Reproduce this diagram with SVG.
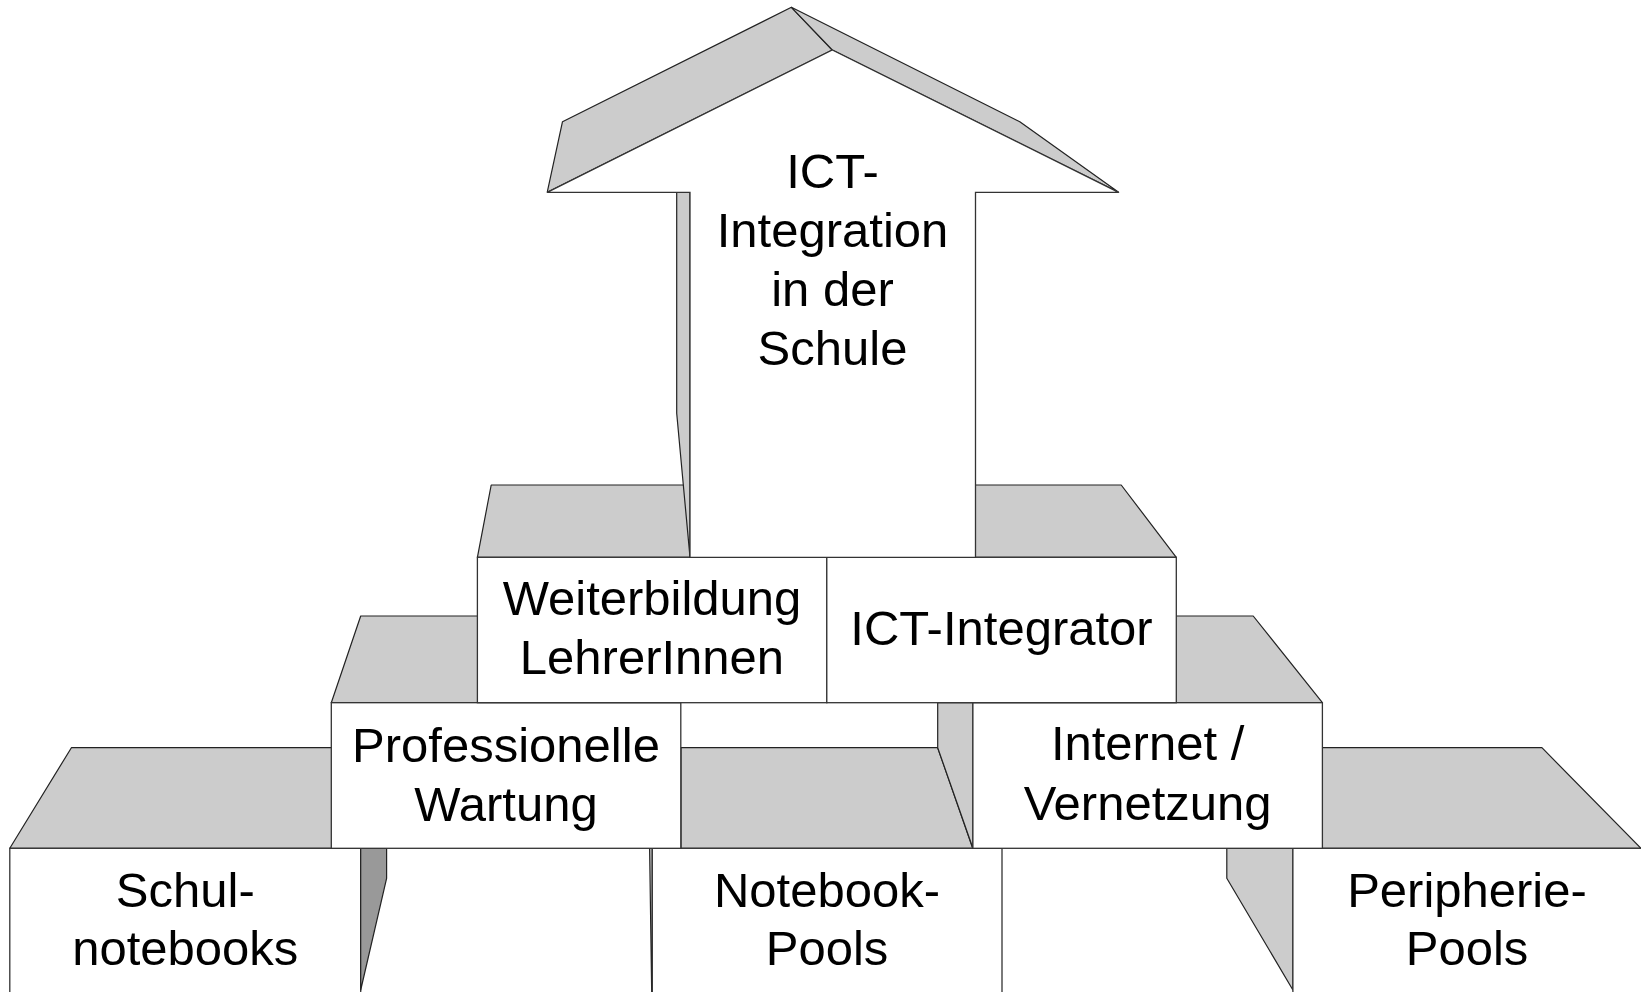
<svg xmlns="http://www.w3.org/2000/svg" width="1641" height="992" viewBox="0 0 1641 992">
<style>
.g{fill:#cccccc;stroke:#222;stroke-width:1.2;stroke-linejoin:round}
.d{fill:#999999;stroke:#222;stroke-width:1.2;stroke-linejoin:round}
.f{fill:#ffffff;stroke:#333;stroke-width:1.3}
.t{font-family:"Liberation Sans",Arial,sans-serif;font-size:49px;fill:#000;text-anchor:middle}
</style>
<rect width="1641" height="992" fill="#fff"/>
<g id="row-bottom-tops">
<polygon class="g" points="71.4,747.7 345,747.7 345,848.3 9.8,848.3"/>
<polygon class="g" points="681,747.7 937.7,747.7 972.7,848.3 681,848.3"/>
<polygon class="g" points="1322.4,747.7 1541.9,747.7 1641,848.3 1322.4,848.3"/>
</g>
<g id="schul-notebooks">
<rect class="f" x="9.8" y="848.3" width="350.9" height="160"/>
<polygon class="d" points="360.7,848.3 386.6,848.3 386.6,878.3 360.7,990"/>
<text class="t" x="185.3" y="907">Schul-</text>
<text class="t" x="185.3" y="965">notebooks</text>
</g>
<g id="notebook-pools">
<polygon class="g" points="649.6,848.3 652.3,848.3 652.3,1000 651.8,1000"/>
<rect class="f" x="652.3" y="848.3" width="349.7" height="160"/>
<text class="t" x="827" y="907">Notebook-</text>
<text class="t" x="827" y="965">Pools</text>
</g>
<g id="peripherie-pools">
<polygon class="g" points="1226.8,848.3 1292.9,848.3 1292.9,990 1226.8,878.3"/>
<rect class="f" x="1292.9" y="848.3" width="370" height="160"/>
<text class="t" x="1467" y="907">Peripherie-</text>
<text class="t" x="1467" y="965">Pools</text>
</g>
<g id="row-middle-tops">
<polygon class="g" points="360.7,616 490,616 490,702.7 331.3,702.7"/>
<polygon class="g" points="937.7,702.7 972.9,702.7 972.9,848.3 937.7,747.7"/>
<polygon class="g" points="1100,616 1253.2,616 1322.4,702.7 1100,702.7"/>
</g>
<g id="professionelle-wartung">
<rect class="f" x="331.3" y="702.7" width="349.5" height="145.6"/>
<text class="t" x="506" y="762">Professionelle</text>
<text class="t" x="506" y="821">Wartung</text>
</g>
<g id="internet-vernetzung">
<rect class="f" x="972.9" y="702.7" width="349.5" height="145.6"/>
<text class="t" x="1147.6" y="760">Internet /</text>
<text class="t" x="1147.6" y="820">Vernetzung</text>
</g>
<g id="row-top-tops">
<polygon class="g" points="491.2,485 690,485 690,557.3 477.4,557.3"/>
<polygon class="g" points="975,485 1121.2,485 1176.3,557.3 975,557.3"/>
</g>
<g id="weiterbildung">
<rect class="f" x="477.4" y="557.3" width="349.4" height="145.4"/>
<text class="t" x="652" y="615">Weiterbildung</text>
<text class="t" x="652" y="674">LehrerInnen</text>
</g>
<g id="ict-integrator">
<rect class="f" x="826.8" y="557.3" width="349.5" height="145.4"/>
<text class="t" x="1001.5" y="645">ICT-Integrator</text>
</g>
<g id="ict-integration-arrow">
<polygon class="g" points="676.7,192.3 690,192.3 690,557.3 676.7,413.3"/>
<polygon class="g" points="547.2,192.3 562.5,121.7 791.4,7.3 832.3,50"/>
<polygon class="g" points="791.4,7.3 1019.8,121.7 1118.6,192.3 832.3,50"/>
<polygon class="f" points="547.2,192.3 832.3,50 1118.6,192.3 975.5,192.3 975.5,557.3 690,557.3 690,192.3"/>
<text class="t" x="832.5" y="188.3">ICT-</text>
<text class="t" x="832.5" y="247">Integration</text>
<text class="t" x="832.5" y="306">in der</text>
<text class="t" x="832.5" y="365">Schule</text>
</g>
<g id="connectors"/>
</svg>
